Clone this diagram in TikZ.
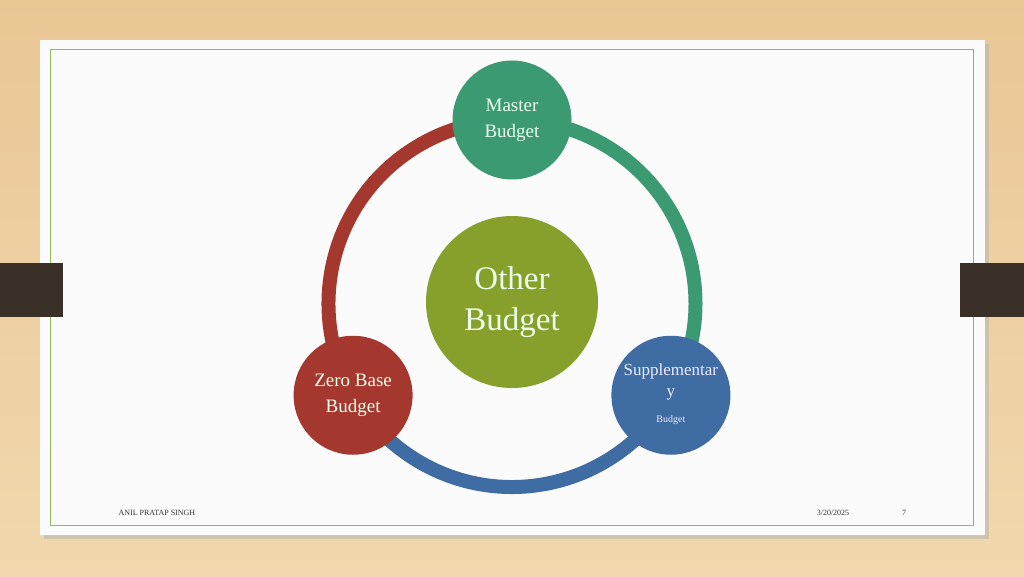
\documentclass[tikz,border=0pt]{standalone}
\usepackage{fontspec}
\setmainfont{Liberation Serif}
\usetikzlibrary{calc}
\definecolor{cg}{HTML}{3B9A72}
\definecolor{cr}{HTML}{A4382F}
\definecolor{cb}{HTML}{3F6CA2}
\definecolor{co}{HTML}{86A02B}
\definecolor{bg1}{HTML}{E9C795}
\definecolor{bg2}{HTML}{F2D8AE}
\definecolor{tab}{HTML}{3A3027}
\definecolor{bd}{HTML}{93B85A}
\begin{document}
\begin{tikzpicture}[x=1pt,y=1pt,
  bud/.style={circle,minimum size=119pt,inner sep=0pt,text=white!92!green,align=center,font=\fontsize{19}{26}\selectfont},
  ring/.style={line width=14pt},
  foot/.style={font=\fontsize{8}{10}\selectfont,text=black!80}]
\useasboundingbox (0,0) rectangle (1024,576);
\shade[top color=bg1,bottom color=bg2] (0,0) rectangle (1024,576);
\fill[black!30,opacity=0.5] (44,37) rectangle (989,532);
\fill[white!97!gray] (40,41) rectangle (985,536);
\draw[bd,line width=1pt] (50,51) rectangle (973,526);
\fill[tab] (0,259) rectangle (63,313);
\fill[tab] (960,259) rectangle (1024,313);
\coordinate (c) at (512,272.5);
\draw[ring,cr] (c) ++(210:183.5) arc (210:90:183.5);
\draw[ring,cg] (c) ++(90:183.5) arc (90:-30:183.5);
\draw[ring,cb] (c) ++(-30:183.5) arc (-30:-150:183.5);
\node[bud,fill=co,minimum size=172pt,font=\fontsize{33}{41}\selectfont] (o) at (512,274) {Other\\Budget};
\node[bud,fill=cg] (m) at (512,456) {Master\\Budget};
\node[bud,fill=cr] (z) at ($(c)+(210:183.5)$) {Zero Base\\Budget};
\node[bud,fill=cb] (s) at ($(c)+(-30:183.5)$) {};
\node[text=white!92!blue,align=center,font=\fontsize{17}{21}\selectfont,inner sep=0pt] (st) at ([yshift=13pt]s.center) {Supplementar\\y};
\node[text=white!92!blue,font=\fontsize{10}{12}\selectfont] (sb) at ([yshift=-25pt]s.center) {Budget};
\node[foot,anchor=west] (f1) at (115,63) {ANIL PRATAP SINGH};
\node[foot] (f2) at (833,63) {3/20/2025};
\node[foot] (f3) at (904,63) {7};
\end{tikzpicture}
\end{document}
